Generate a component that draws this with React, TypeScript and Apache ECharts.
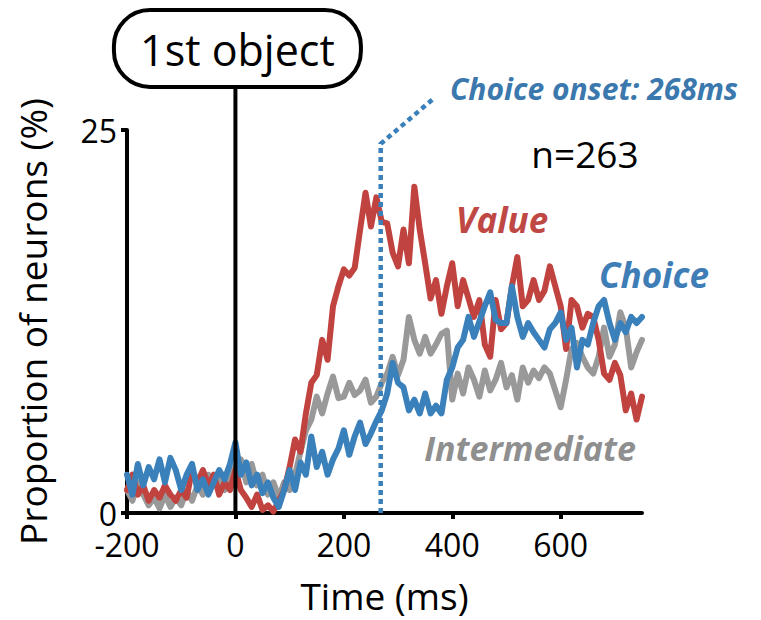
import React, { useEffect, useRef } from "react";
import * as echarts from "echarts";

const times = [
  -200, -190, -180, -170, -160, -150, -140, -130, -120, -110,
  -100, -90, -80, -70, -60, -50, -40, -30, -20, -10,
  0, 10, 20, 30, 40, 50, 60, 70, 80, 90,
  100, 110, 120, 130, 140, 150, 160, 170, 180, 190,
  200, 210, 220, 230, 240, 250, 260, 270, 280, 290,
  300, 310, 320, 330, 340, 350, 360, 370, 380, 390,
  400, 410, 420, 430, 440, 450, 460, 470, 480, 490,
  500, 510, 520, 530, 540, 550, 560, 570, 580, 590,
  600, 610, 620, 630, 640, 650, 660, 670, 680, 690,
  700, 710, 720, 730, 740, 750,
];

const valueSeries = [
  1.5, 2.5, 1.2, 1.8, 0.8, 1.5, 1.0, 1.8, 1.2, 0.8,
  1.5, 1.0, 2.8, 2.0, 2.8, 1.8, 2.5, 1.2, 2.0, 1.5,
  2.8, 1.5, 1.0, 0.4, 1.2, 0.2, 0.5, 0.1, 0.8, 1.5,
  3.0, 4.8, 4.0, 6.5, 8.5, 9.0, 11.3, 10.0, 13.5, 14.8,
  15.9, 15.5, 16.0, 18.5, 20.9, 18.7, 20.6, 19.0, 18.9, 17.0,
  16.1, 18.5, 16.3, 21.3, 18.5, 16.3, 14.0, 15.2, 13.0, 14.8,
  16.3, 13.5, 15.2, 14.0, 12.8, 13.9, 11.0, 10.2, 13.9, 12.0,
  12.4, 14.8, 16.7, 13.5, 13.9, 15.2, 13.9, 14.5, 16.1, 14.8,
  13.5, 10.7, 13.9, 13.5, 12.1, 13.0, 12.8, 11.3, 9.1, 8.7,
  9.8, 9.0, 6.7, 7.8, 6.1, 7.6,
];

const choiceSeries = [
  2.5, 1.2, 3.2, 1.8, 3.0, 2.2, 3.5, 2.0, 3.6, 2.8,
  1.5, 2.5, 3.2, 1.5, 2.2, 1.2, 2.0, 2.8, 2.2, 3.2,
  4.6, 2.5, 3.3, 1.8, 2.5, 1.3, 2.0, 1.0, 0.4, 1.5,
  2.8, 1.5, 3.3, 2.5, 5.0, 3.0, 4.0, 2.5, 3.5, 4.2,
  5.4, 3.8, 5.0, 5.9, 4.5, 5.2, 6.0, 6.7, 7.8, 9.8,
  8.5, 8.2, 6.7, 7.4, 6.5, 7.8, 6.5, 7.0, 6.5, 8.7,
  9.5, 10.8, 11.3, 12.8, 11.5, 12.5, 13.5, 14.4, 12.6, 12.4,
  12.4, 14.8, 12.8, 11.5, 12.4, 11.8, 11.3, 10.8, 12.0, 12.4,
  13.1, 11.3, 12.1, 9.5, 11.3, 11.0, 12.4, 13.5, 13.9, 12.4,
  11.3, 12.4, 11.8, 12.8, 12.4, 12.8,
];

const intermediateSeries = [
  1.5, 0.8, 2.0, 1.2, 0.5, 1.0, 0.3, 1.2, 0.4, 1.0,
  0.5, 1.5, 0.8, 1.8, 1.2, 2.5, 1.8, 2.2, 1.5, 2.5,
  3.0, 3.5, 2.0, 3.2, 1.8, 2.5, 1.2, 2.0, 1.0, 2.0,
  1.5, 2.5, 4.0, 5.4, 6.1, 7.6, 6.5, 7.8, 8.9, 7.5,
  7.6, 8.5, 7.7, 8.0, 8.7, 7.2, 7.6, 8.5, 9.1, 10.2,
  9.0, 10.0, 12.8, 11.3, 10.4, 11.5, 10.4, 11.0, 11.7, 11.9,
  7.4, 9.1, 7.8, 9.5, 8.7, 7.6, 9.3, 8.0, 8.7, 9.8,
  8.2, 9.0, 7.4, 9.5, 8.5, 9.3, 8.8, 9.5, 9.1, 8.0,
  6.9, 8.7, 10.7, 11.1, 10.2, 9.5, 9.1, 10.2, 12.1, 10.2,
  11.0, 13.1, 12.1, 9.5, 10.5, 11.3,
];

const xTicks = [-200, 0, 200, 400, 600];
const choiceOnset = 268;
const sampleSize = 263;

const RED = "#c0433f";
const BLUE = "#3a80ba";
const GRAY = "#999999";
const FONT = '"Open Sans", "Noto Sans", sans-serif';

export default function App() {
  const ref = useRef<HTMLDivElement>(null);
  useEffect(() => {
    document.body.style.margin = "0";
    if (!ref.current) return;
    const chart = echarts.init(ref.current, null, { renderer: "svg" });
    const pair = (ys: number[]) => times.map((t, i) => [t, ys[i]]);
    const mkSeries = (name: string, ys: number[], color: string, z: number) => ({
      name,
      type: "line",
      data: pair(ys),
      showSymbol: false,
      symbol: "none",
      z,
      lineStyle: { color, width: 6, join: "round", cap: "round" },
      itemStyle: { color },
    });
    chart.setOption({
      animation: false,
      backgroundColor: "#ffffff",
      grid: { left: 127, right: 119, top: 130, bottom: 107 },
      xAxis: {
        type: "value",
        min: -200,
        max: 750,
        interval: 200,
        axisLine: { show: true, onZero: false, lineStyle: { color: "#000", width: 4 } },
        axisTick: { show: true, length: 6, lineStyle: { color: "#000", width: 4 }, customValues: xTicks },
        axisLabel: { customValues: xTicks, fontSize: 32, lineHeight: 26, color: "#000", margin: 18, fontFamily: FONT },
        splitLine: { show: false },
        name: "Time (ms)",
        nameLocation: "middle",
        nameGap: 64,
        nameTextStyle: { fontSize: 37, color: "#000", fontFamily: FONT },
      },
      yAxis: {
        type: "value",
        min: 0,
        max: 25,
        interval: 25,
        axisLine: { show: true, onZero: false, lineStyle: { color: "#000", width: 4 } },
        axisTick: { show: true, length: 6, lineStyle: { color: "#000", width: 4 } },
        axisLabel: { fontSize: 32, lineHeight: 22, color: "#000", margin: 10, fontFamily: FONT },
        splitLine: { show: false },
        name: "Proportion of neurons (%)",
        nameLocation: "middle",
        nameGap: 76,
        nameTextStyle: { fontSize: 37, color: "#000", fontFamily: FONT },
      },
      series: [
        mkSeries("Intermediate", intermediateSeries, GRAY, 2),
        mkSeries("Value", valueSeries, RED, 3),
        mkSeries("Choice", choiceSeries, BLUE, 4),
      ],
    });

    const p0 = chart.convertToPixel({ gridIndex: 0 }, [0, 0]) as number[];
    const pc0 = chart.convertToPixel({ gridIndex: 0 }, [choiceOnset, 0]) as number[];
    const pc1 = chart.convertToPixel({ gridIndex: 0 }, [choiceOnset, 24.1]) as number[];
    const pc2 = chart.convertToPixel({ gridIndex: 0 }, [367, 27.1]) as number[];
    const boxW = 247;
    const boxH = 77;
    const boxTop = 10;

    chart.setOption({
      graphic: [
        {
          type: "line",
          z: 10,
          shape: { x1: p0[0], y1: p0[1], x2: p0[0], y2: boxTop + boxH },
          style: { stroke: "#000", lineWidth: 4 },
        },
        {
          type: "rect",
          z: 11,
          shape: { x: p0[0] - boxW / 2 + 2, y: boxTop, width: boxW, height: boxH, r: 36 },
          style: { fill: "#fff", stroke: "#000", lineWidth: 4 },
        },
        {
          type: "text",
          z: 12,
          x: p0[0] + 2,
          y: boxTop + boxH / 2 + 1,
          style: { text: "1st object", fontSize: 43, fontFamily: FONT, fill: "#000", align: "center", verticalAlign: "middle" },
        },
        {
          type: "polyline",
          z: 9,
          shape: { points: [pc0, pc1, pc2] },
          style: { stroke: BLUE, lineWidth: 4.5, lineDash: [5, 4], fill: "none" },
        },
        {
          type: "text",
          x: 450,
          y: 88,
          style: { text: "Choice onset: " + choiceOnset + "ms", fontSize: 30, fontWeight: "bold", fontStyle: "italic", fontFamily: FONT, fill: "#3a78ad", align: "left", verticalAlign: "middle" },
        },
        {
          type: "text",
          x: 585,
          y: 153,
          style: { text: "n=" + sampleSize, fontSize: 37, fontFamily: FONT, fill: "#000", align: "center", verticalAlign: "middle" },
        },
        {
          type: "text",
          x: 502,
          y: 219,
          style: { text: "Value", fontSize: 35, fontWeight: "bold", fontStyle: "italic", fontFamily: FONT, fill: "#bf4744", align: "center", verticalAlign: "middle" },
        },
        {
          type: "text",
          x: 654,
          y: 274,
          style: { text: "Choice", fontSize: 35, fontWeight: "bold", fontStyle: "italic", fontFamily: FONT, fill: "#3f7db6", align: "center", verticalAlign: "middle" },
        },
        {
          type: "text",
          x: 530,
          y: 448,
          style: { text: "Intermediate", fontSize: 34, fontWeight: "bold", fontStyle: "italic", fontFamily: FONT, fill: "#8f8f8f", align: "center", verticalAlign: "middle" },
        },
      ],
    });
    return () => chart.dispose();
  }, []);
  return <div ref={ref} style={{ width: 761, height: 620 }} />;
}
